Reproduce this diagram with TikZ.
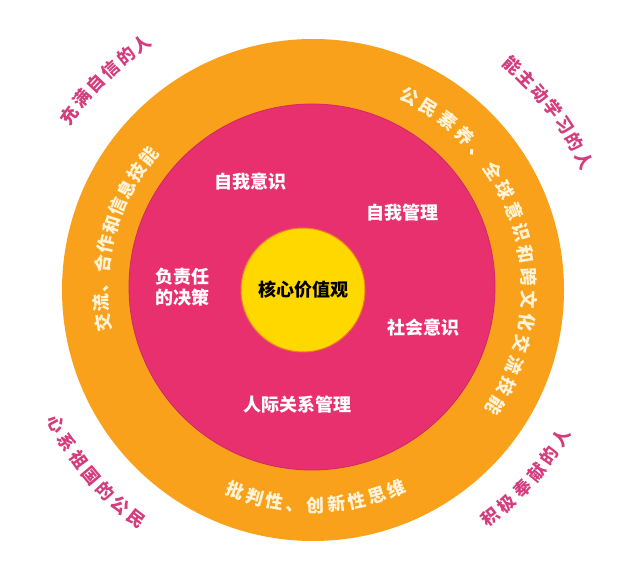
\documentclass[tikz,border=0pt]{standalone}
\usepackage{fontspec}
\setmainfont{Noto Sans CJK SC}
\usetikzlibrary{decorations.text}
\definecolor{ringorange}{HTML}{F9A11B}
\definecolor{rose}{HTML}{E8306F}
\definecolor{roseline}{HTML}{D02A62}
\definecolor{core}{HTML}{FFD800}
\definecolor{coreline}{HTML}{F07A2A}
\definecolor{cream}{HTML}{FFF4D8}
\definecolor{berry}{HTML}{D43C7E}

\newcommand\ringfont{\fontsize{18}{18}\selectfont\bfseries}
\newcommand\outfont{\fontsize{17.5}{18}\selectfont\bfseries}

\begin{document}
\begin{tikzpicture}[x=1pt,y=1pt,
  ringlabel/.style={decorate,decoration={text along path,text align={fit to path},
    text color=cream,text={|\ringfont|#1}}},
  outerlabel/.style={decorate,decoration={text along path,text align={fit to path},
    text color=berry,text={|\outfont|#1}}},
  bandlabel/.style={text=white,font=\fontsize{18}{21}\selectfont\bfseries,align=center}]
  \useasboundingbox (0,0) rectangle (640,579);

  % three discs
  \node[circle,fill=ringorange,minimum size=502pt,inner sep=0pt] (ring) at (313,289) {};
  \node[circle,fill=rose,draw=roseline,line width=0.8pt,minimum size=366pt,inner sep=0pt] (band) at (312,292) {};
  \node[circle,fill=core,draw=coreline,line width=1pt,minimum size=124pt,inner sep=0pt,
        font=\fontsize{18}{18}\selectfont\bfseries] (core) at (303,289) {核心价值观};

  % pink band
  \node[bandlabel] (selfaware) at (250,397) {自我意识};
  \node[bandlabel] (selfmgmt) at (402,366) {自我管理};
  \node[bandlabel] (decision) at (182,292) {负责任\\的决策};
  \node[bandlabel] (social) at (423,251) {社会意识};
  \node[bandlabel] (relation) at (297,174) {人际关系管理};

  % orange ring
  \path[ringlabel={公民素养、全球意识和跨文化交流技能}]
    ([shift={(66:209)}]ring.center) arc[start angle=66,end angle=-35,radius=209];
  \path[ringlabel={交流、合作和信息技能}]
    ([shift={(191.5:205)}]ring.center) arc[start angle=191.5,end angle=138.3,radius=205];
  \path[ringlabel={批判性、创新性思维}]
    ([shift={(246.5:222)}]ring.center) arc[start angle=246.5,end angle=295,radius=222];

  % outside
  \path[outerlabel={充满自信的人}]
    ([shift={(146:293)}]ring.center) arc[start angle=146,end angle=123,radius=293];
  \path[outerlabel={能主动学习的人}]
    ([shift={(50.2:294)}]ring.center) arc[start angle=50.2,end angle=23.9,radius=294];
  \path[outerlabel={心系祖国的公民}]
    ([shift={(206:296)}]ring.center) arc[start angle=206,end angle=234,radius=296];
  \path[outerlabel={积极奉献的人}]
    ([shift={(306.3:295)}]ring.center) arc[start angle=306.3,end angle=331,radius=295];
\end{tikzpicture}
\end{document}
